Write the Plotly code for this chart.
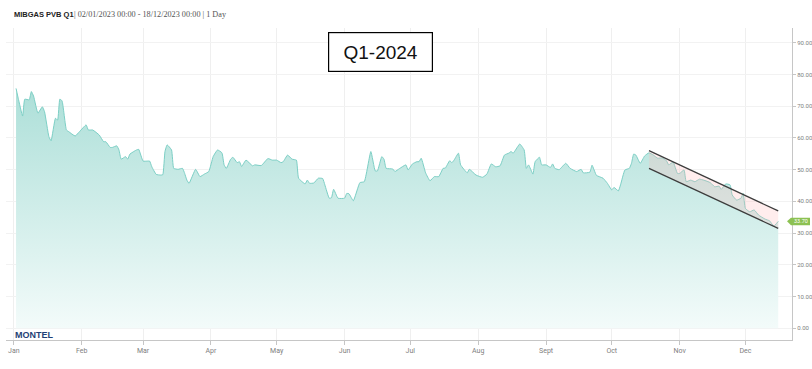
import plotly.graph_objects as go

# ---------------- data ----------------
dates = [
    "2023-01-02", "2023-01-03", "2023-01-05", "2023-01-06", "2023-01-08", "2023-01-09", "2023-01-10",
    "2023-01-12", "2023-01-14", "2023-01-15", "2023-01-17", "2023-01-18", "2023-01-20", "2023-01-21",
    "2023-01-22", "2023-01-23", "2023-01-25", "2023-01-26", "2023-01-29", "2023-01-31",
    "2023-02-03", "2023-02-04", "2023-02-06", "2023-02-09", "2023-02-11", "2023-02-12", "2023-02-14",
    "2023-02-15", "2023-02-17", "2023-02-18", "2023-02-19", "2023-02-21", "2023-02-22", "2023-02-23",
    "2023-02-26", "2023-02-27",
    "2023-03-01", "2023-03-03", "2023-03-04", "2023-03-05", "2023-03-07", "2023-03-09", "2023-03-10",
    "2023-03-11", "2023-03-12", "2023-03-14", "2023-03-15", "2023-03-17", "2023-03-19", "2023-03-20",
    "2023-03-21", "2023-03-22", "2023-03-25", "2023-03-27", "2023-03-29", "2023-03-31",
    "2023-04-02", "2023-04-04", "2023-04-06", "2023-04-07", "2023-04-08", "2023-04-10", "2023-04-11",
    "2023-04-13", "2023-04-14", "2023-04-15", "2023-04-17", "2023-04-20", "2023-04-21", "2023-04-24",
    "2023-04-27", "2023-04-29",
    "2023-05-01", "2023-05-03", "2023-05-04", "2023-05-06", "2023-05-08", "2023-05-10", "2023-05-11",
    "2023-05-14", "2023-05-15", "2023-05-16", "2023-05-18", "2023-05-20", "2023-05-22", "2023-05-23",
    "2023-05-25", "2023-05-26", "2023-05-27", "2023-05-29",
    "2023-06-01", "2023-06-02", "2023-06-03", "2023-06-05", "2023-06-08", "2023-06-10", "2023-06-13",
    "2023-06-15", "2023-06-16", "2023-06-18", "2023-06-19", "2023-06-20", "2023-06-23", "2023-06-24",
    "2023-06-26", "2023-06-29", "2023-06-30",
    "2023-07-02", "2023-07-04", "2023-07-05", "2023-07-06", "2023-07-08", "2023-07-10", "2023-07-12",
    "2023-07-14", "2023-07-16", "2023-07-17", "2023-07-19", "2023-07-20", "2023-07-21", "2023-07-23",
    "2023-07-24", "2023-07-27", "2023-07-28", "2023-07-31",
    "2023-08-03", "2023-08-05", "2023-08-07", "2023-08-09", "2023-08-11", "2023-08-13", "2023-08-15",
    "2023-08-16", "2023-08-17", "2023-08-19", "2023-08-20", "2023-08-22", "2023-08-23", "2023-08-24",
    "2023-08-26", "2023-08-27", "2023-08-29", "2023-08-30",
    "2023-09-01", "2023-09-03", "2023-09-04", "2023-09-05", "2023-09-07", "2023-09-10", "2023-09-12",
    "2023-09-15", "2023-09-17", "2023-09-18", "2023-09-21", "2023-09-22", "2023-09-24", "2023-09-27",
    "2023-09-29",
    "2023-10-01", "2023-10-02", "2023-10-04", "2023-10-05", "2023-10-07", "2023-10-09", "2023-10-10",
    "2023-10-11", "2023-10-12", "2023-10-14", "2023-10-16", "2023-10-18", "2023-10-20", "2023-10-22",
    "2023-10-24", "2023-10-26", "2023-10-27", "2023-10-29", "2023-10-31",
    "2023-11-01", "2023-11-03", "2023-11-04", "2023-11-06", "2023-11-08", "2023-11-10", "2023-11-12",
    "2023-11-15", "2023-11-17", "2023-11-19", "2023-11-20", "2023-11-22", "2023-11-24", "2023-11-25",
    "2023-11-27", "2023-11-29", "2023-11-30",
    "2023-12-01", "2023-12-03", "2023-12-05", "2023-12-07", "2023-12-10", "2023-12-12", "2023-12-14",
    "2023-12-16",
]
prices = [
    75.6, 72.5, 66.9, 72.2, 72.0, 74.6, 73.2,
    67.8, 69.8, 68.3, 60.4, 59.1, 66.2, 65.6,
    72.2, 71.7, 62.5, 62.0, 60.6, 62.0,
    64.1, 62.5, 62.5, 60.9, 58.8, 58.8, 57.0,
    57.0, 57.5, 56.2, 53.3, 54.1, 53.3, 54.9,
    56.2, 56.4,
    52.7, 52.7, 52.7, 50.9, 48.5, 48.3, 48.4,
    55.7, 57.8, 56.2, 50.4, 50.1, 50.4, 48.8,
    46.7, 45.7, 50.1, 47.8, 48.6, 49.4,
    54.1, 56.2, 55.3, 51.5, 50.4, 53.3, 53.9,
    52.2, 52.5, 51.0, 53.0, 51.2, 51.5, 51.3,
    53.5, 53.0,
    53.0, 52.2, 52.5, 54.6, 53.3, 53.0, 47.3,
    45.5, 46.7, 45.7, 45.8, 47.3, 47.2, 45.2,
    41.0, 41.1, 43.8, 41.0,
    41.0, 42.5, 42.4, 40.2, 45.9, 46.2, 55.7,
    49.6, 49.6, 54.1, 53.3, 50.4, 50.2, 49.4,
    50.3, 51.5, 49.9,
    51.8, 52.5, 52.5, 53.6, 49.0, 46.5, 47.8,
    47.8, 50.4, 50.5, 52.8, 52.2, 53.0, 55.2,
    51.5, 49.0, 50.1, 48.3,
    47.6, 48.6, 51.8, 50.9, 51.2, 54.6, 55.2,
    55.7, 55.2, 57.2, 58.1, 56.2, 50.4, 51.5,
    48.6, 52.5, 53.9, 51.5,
    51.5, 50.7, 51.8, 50.4, 50.0, 52.0, 50.4,
    49.4, 50.1, 49.0, 49.2, 51.4, 48.2, 47.3,
    45.7,
    43.6, 44.4, 43.3, 45.2, 49.9, 50.4, 52.0,
    54.9, 54.6, 52.0, 54.3, 55.3, 54.6, 53.6,
    53.7, 52.8, 51.5, 52.4, 48.8,
    48.8, 49.9, 46.2, 46.7, 46.2, 47.0, 46.7,
    45.9, 44.6, 44.8, 43.8, 45.5, 45.2, 42.0,
    40.4, 41.0, 42.5,
    37.8, 36.7, 37.3, 35.7, 34.4, 33.9, 32.2,
    33.7,
]

channel_dates = ["2023-10-18", "2023-12-16"]
channel_upper = [56.0, 37.0]
channel_lower = [50.4, 31.5]

month_ticks = ["2023-01-01", "2023-02-01", "2023-03-01", "2023-04-01", "2023-05-01", "2023-06-01",
               "2023-07-01", "2023-08-01", "2023-09-01", "2023-10-01", "2023-11-01", "2023-12-01"]
month_labels = ["Jan", "Feb", "Mar", "Apr", "May", "Jun", "Jul", "Aug", "Sept", "Oct", "Nov", "Dec"]
y_ticks = [0, 10, 20, 30, 40, 50, 60, 70, 80, 90]
y_labels = ["%.2f" % v for v in y_ticks]
last_price = 33.70

title_main = "MIBGAS PVB Q1"
title_rest = "| 02/01/2023 00:00 - 18/12/2023 00:00 | 1 Day"
box_label = "Q1-2024"
brand = "MONTEL"

# ---------------- layout helpers (pixel -> paper) ----------------
W, H = 812, 369
L, R, T, B = 6, 20, 28, 29
PW, PH = W - L - R, H - T - B


def px(x):
    return (x - L) / PW


def py(y):
    return (H - B - y) / PH


fig = go.Figure()

fig.add_trace(go.Scatter(
    x=dates, y=prices, mode="lines",
    line=dict(color="#7ccfc5", width=1, shape="spline", smoothing=0.4),
    fill="tozeroy",
    fillgradient=dict(type="vertical",
                      colorscale=[[0, "rgb(243,251,250)"], [1, "rgb(172,223,216)"]],
                      start=0, stop=76),
    hoverinfo="skip", showlegend=False,
))

fig.add_trace(go.Scatter(
    x=channel_dates, y=channel_lower, mode="lines",
    line=dict(color="#3c3c3c", width=1.2), showlegend=False, hoverinfo="skip",
))
fig.add_trace(go.Scatter(
    x=channel_dates, y=channel_upper, mode="lines",
    line=dict(color="#3c3c3c", width=1.2), fill="tonexty",
    fillcolor="rgba(255,185,185,0.25)", showlegend=False, hoverinfo="skip",
))

# price tag on the right axis
yv = lambda pix: (328.3 - pix) / 3.173
fig.add_shape(type="path", xref="paper", yref="y", layer="above",
              path="M %.5f %.3f L %.5f %.3f L %.5f %.3f L %.5f %.3f L %.5f %.3f Z" % (
                  px(787), last_price, px(791), yv(217.8), px(810), yv(217.8),
                  px(810), yv(225.2), px(791), yv(225.2)),
              fillcolor="#8cc152", line=dict(width=0))

annotations = [
    dict(x=px(800.5), y=last_price, xref="paper", yref="y", text="%.2f" % last_price,
         showarrow=False, font=dict(family="Roboto", size=5.5, color="white"),
         xanchor="center", yanchor="middle"),
    dict(x=px(11.5), y=py(15), xref="paper", yref="paper", text="<b>%s</b>" % title_main,
         showarrow=False, font=dict(family="Liberation Sans", size=7.5, color="#222"),
         xanchor="left", yanchor="middle"),
    dict(x=px(71.5), y=py(15), xref="paper", yref="paper", text=title_rest,
         showarrow=False, font=dict(family="Liberation Serif", size=8.2, color="#555"),
         xanchor="left", yanchor="middle"),
    dict(x=px(380.8), y=py(52), xref="paper", yref="paper", text=box_label,
         showarrow=False, font=dict(family="Liberation Sans", size=19, color="#111"),
         xanchor="center", yanchor="middle", width=103, height=38,
         bordercolor="#000", borderwidth=1.2, borderpad=0, bgcolor="white"),
    dict(x=px(12.5), y=py(335), xref="paper", yref="paper", text="<b>%s</b>" % brand,
         showarrow=False, font=dict(family="Liberation Sans", size=9, color="#1f3f76"),
         xanchor="left", yanchor="middle"),
]

fig.update_layout(
    width=W, height=H,
    margin=dict(l=L, r=R, t=T, b=B, autoexpand=False),
    paper_bgcolor="white", plot_bgcolor="white",
    showlegend=False,
    annotations=annotations,
    xaxis=dict(
        range=["2022-12-28 10:00", "2023-12-22 07:00"],
        tickvals=month_ticks, ticktext=month_labels,
        showgrid=True, gridcolor="#efefef", gridwidth=1,
        showline=True, linecolor="#c6c6c6", linewidth=1,
        ticks="outside", ticklen=4, tickcolor="#c6c6c6",
        tickfont=dict(family="Roboto", size=7, color="#808080"),
        zeroline=False, automargin=False,
    ),
    yaxis=dict(
        side="right",
        range=[-3.69, 94.64],
        tickvals=y_ticks, ticktext=y_labels,
        showgrid=True, gridcolor="#f2f2f2", gridwidth=1,
        showline=True, linecolor="#c6c6c6", linewidth=1,
        ticks="outside", ticklen=3, tickcolor="#c6c6c6",
        tickfont=dict(family="Roboto", size=6, color="#808080"),
        zeroline=False, automargin=False,
    ),
)

fig.write_html("out.html", config={"displayModeBar": False},
               post_script="document.body.style.margin='0';document.body.style.overflow='hidden';")
